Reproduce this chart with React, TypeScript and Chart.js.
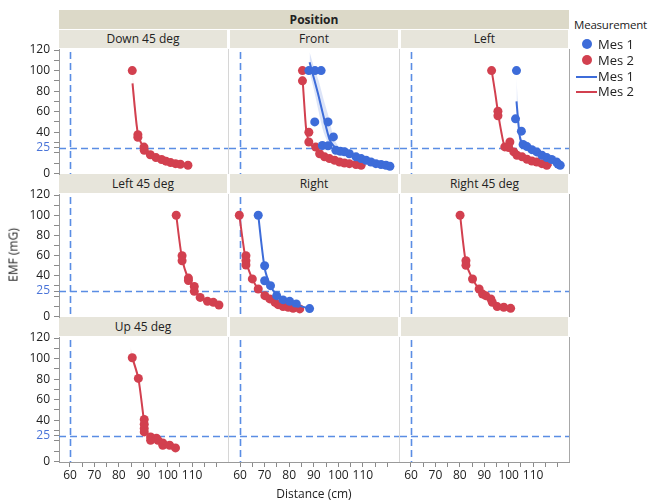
import React, { useEffect, useRef } from "react";
import { Chart, registerables } from "chart.js";
Chart.register(...registerables);

// ---------- data ----------
const groupTitle = "Position";
const positions = ["Down 45 deg", "Front", "Left", "Left 45 deg", "Right", "Right 45 deg", "Up 45 deg", "", ""];
const yTickValues = [0, 10, 20, 25, 30, 40, 50, 60, 70, 80, 90, 100, 110, 120];
const yTickLabels = [0, 25, 40, 60, 80, 100, 120];
const xTickValues = [60, 65, 70, 75, 80, 85, 90, 95, 100, 105, 110, 115, 120];
const xTickLabels = [60, 70, 80, 90, 100, 110];
const refDistance = 60;
const refEMF = 25;
const seriesNames = ["Mes 1", "Mes 2"];

// Down 45 deg
const down45Mes2X = [85.5, 87.8, 87.8, 90.3, 90.4, 92.9, 95.2, 97.5, 99.3, 101.2, 103.2, 105.2, 108.3];
const down45Mes2Y = [100, 37.5, 35, 25.5, 22.4, 18, 15.3, 13.4, 11.8, 10.4, 9.4, 8.8, 7.8];
const down45Fit2X = [85.6, 86.5, 87.7, 89, 90.6, 93, 96, 100, 104, 108.3];
const down45Fit2Y = [87.5, 65, 40, 30, 24, 18.5, 14.5, 11, 9, 7.8];
const down45Band2X = [85.6, 86.5, 87.7, 89, 90.6];
const down45Band2Lo = [77, 55, 36, 28, 23];
const down45Band2Hi = [98, 75, 44, 32, 25];

// Front
const frontMes1X = [88, 90.5, 93, 90.4, 95.8, 98, 93.5, 95.8, 99, 100.8, 102.5, 104.5, 107.2, 109.3, 111.3, 113.3, 115.3, 117.4, 119.4, 121];
const frontMes1Y = [100, 100, 100, 50, 50, 35.4, 27, 26.7, 22.4, 21.5, 21, 19, 16, 14.3, 12.7, 11, 9.4, 8.5, 7.8, 6.8];
const frontFit1X = [88.3, 90, 92, 94, 96.4, 98, 100, 103.4, 108, 113, 121];
const frontFit1Y = [108, 93, 75, 55, 33, 27, 23, 19, 15, 11, 7];
const frontBand1X = [88.3, 90, 92, 94, 96.4, 98, 100];
const frontBand1Lo = [98, 82, 60, 40, 27, 22, 20];
const frontBand1Hi = [118, 104, 90, 72, 52, 35, 26];
const frontMes2X = [85.4, 85.4, 88, 88, 90.8, 92.4, 94.4, 96.4, 98.5, 100.5, 102.5, 104.5, 107.2, 109.3];
const frontMes2Y = [100, 90, 40, 30.5, 25.5, 19, 16, 14.3, 12.7, 11, 10, 9.4, 8.5, 7.8];
const frontFit2X = [85.4, 86.2, 87.1, 88.5, 90.5, 93.5, 96.6, 100, 104, 110];
const frontFit2Y = [94, 65, 39, 29, 24, 19, 16, 12, 10, 7.8];

// Left
const leftMes1X = [103.2, 102.8, 105.2, 105.9, 107.5, 109.5, 111.5, 113.6, 115.6, 117.6, 119.6, 120.2, 121.1];
const leftMes1Y = [100, 53, 41, 28, 26, 23, 20.8, 17.6, 15.3, 13.4, 11, 9, 7.8];
const leftFit1X = [103.2, 104, 104.8, 106.5, 108.2, 112, 116, 121.8];
const leftFit1Y = [70, 48, 33, 27, 24, 19, 14, 9.4];
const leftBand1X = [103.2, 104, 104.8, 106.5];
const leftBand1Lo = [55, 40, 29, 25];
const leftBand1Hi = [92, 60, 38, 29];
const leftMes2X = [93, 95.6, 95.6, 98.4, 100.5, 100, 102.1, 103.4, 105.5, 107.5, 109.5, 111.5, 113.6, 115.6];
const leftMes2Y = [100, 60.5, 56, 25.7, 30.5, 25, 20.8, 17.6, 16, 13.7, 12, 11, 9.4, 7.8];
const leftFit2X = [93.1, 94.5, 95.7, 97, 98.4, 101, 104.1, 110, 117.6];
const leftFit2Y = [99, 78, 58, 40, 26, 21, 16, 12, 7.8];

// Left 45 deg
const left45Mes2X = [103.5, 105.9, 105.9, 108.5, 108.5, 110.9, 110.9, 113.3, 116.3, 118.7, 121];
const left45Mes2Y = [100, 60, 55, 37.8, 35.3, 29.6, 24.7, 18.7, 14.8, 13.8, 11.2];
const left45Fit2X = [103.5, 105.9, 108.5, 110.9, 113.3, 116.3, 121];
const left45Fit2Y = [100, 57, 36.5, 27, 19, 15, 11];

// Right
const rightMes1X = [67.4, 70, 70, 72.4, 74.9, 77.5, 80.2, 82.9, 88.3];
const rightMes1Y = [100, 50, 35.2, 30.3, 20.4, 16.2, 14.8, 12.2, 7.6];
const rightFit1X = [67.4, 70, 72.4, 75, 78, 82, 88.3];
const rightFit1Y = [100, 48, 30, 21, 16, 12, 7.6];
const rightMes2X = [59.7, 62.4, 62.4, 62.4, 65, 67.4, 70.1, 72.1, 74.2, 75.5, 77.5, 79.6, 81.6, 84.3];
const rightMes2Y = [100, 60, 55, 50.7, 37, 27, 20.4, 17.2, 13.8, 11.5, 9.6, 8.9, 7.9, 7.3];
const rightFit2X = [59.7, 62.4, 65, 67.4, 70.1, 74.2, 79.6, 84.3];
const rightFit2Y = [100, 55, 37, 27, 20.5, 14, 9, 7.3];

// Right 45 deg
const right45Mes2X = [80.1, 82.5, 82.5, 85.2, 87.9, 89.3, 90.6, 92.7, 93.3, 95.3, 98, 100.8];
const right45Mes2Y = [100, 55, 50.5, 36.9, 27, 22, 20.4, 17.2, 13.8, 9.6, 8.9, 7.9];
const right45Fit2X = [80.1, 82.5, 85.2, 87.9, 90.6, 93, 95.3, 100.8];
const right45Fit2Y = [100, 53, 37, 27, 21, 16, 11, 8];

// Up 45 deg
const up45Mes2X = [85.5, 88, 90.4, 90.4, 90.4, 90.4, 93, 93, 95.4, 96, 98, 98, 100.8, 103.2];
const up45Mes2Y = [100.8, 80.7, 40.7, 36, 32, 28.6, 23.7, 20.5, 22.4, 20.5, 17.9, 15.6, 15.6, 13];
const up45Fit2X = [85.5, 88, 90.4, 91.5, 93, 96, 100, 103.2];
const up45Fit2Y = [101, 80.7, 38, 27, 23, 20, 16, 13];
const up45Band2X = [84.8, 85.5, 88];
const up45Band2Lo = [100, 97, 78];
const up45Band2Hi = [111, 104, 83];

// ---------- style ----------
const BLUE = "#3d6cd9";
const RED = "#d2404f";
const REF = "#5a8de4";
const FONT = "'Open Sans', 'Noto Sans', sans-serif";
const TEXT = "#222";
const X_MIN = 55.5, X_MAX = 124.7, Y_MIN = -0.7, Y_MAX = 121;

const COLS = [{ left: 59, width: 169 }, { left: 229, width: 170 }, { left: 400, width: 169 }];
const ROWS = [
  { hdr: 30, top: 49, height: 125 },
  { hdr: 174, top: 194, height: 123 },
  { hdr: 317, top: 337, height: 125 },
];

type S = { x: number[]; y: number[] };
type Band = { x: number[]; lo: number[]; hi: number[] };
type Spec = { pts1?: S; pts2?: S; fit1?: S; fit2?: S; band1?: Band; band2?: Band };

const specs: Spec[] = [
  { pts2: { x: down45Mes2X, y: down45Mes2Y }, fit2: { x: down45Fit2X, y: down45Fit2Y }, band2: { x: down45Band2X, lo: down45Band2Lo, hi: down45Band2Hi } },
  { pts1: { x: frontMes1X, y: frontMes1Y }, fit1: { x: frontFit1X, y: frontFit1Y }, band1: { x: frontBand1X, lo: frontBand1Lo, hi: frontBand1Hi }, pts2: { x: frontMes2X, y: frontMes2Y }, fit2: { x: frontFit2X, y: frontFit2Y } },
  { pts1: { x: leftMes1X, y: leftMes1Y }, fit1: { x: leftFit1X, y: leftFit1Y }, band1: { x: leftBand1X, lo: leftBand1Lo, hi: leftBand1Hi }, pts2: { x: leftMes2X, y: leftMes2Y }, fit2: { x: leftFit2X, y: leftFit2Y } },
  { pts2: { x: left45Mes2X, y: left45Mes2Y }, fit2: { x: left45Fit2X, y: left45Fit2Y } },
  { pts1: { x: rightMes1X, y: rightMes1Y }, fit1: { x: rightFit1X, y: rightFit1Y }, pts2: { x: rightMes2X, y: rightMes2Y }, fit2: { x: rightFit2X, y: rightFit2Y } },
  { pts2: { x: right45Mes2X, y: right45Mes2Y }, fit2: { x: right45Fit2X, y: right45Fit2Y } },
  { pts2: { x: up45Mes2X, y: up45Mes2Y }, fit2: { x: up45Fit2X, y: up45Fit2Y }, band2: { x: up45Band2X, lo: up45Band2Lo, hi: up45Band2Hi } },
  {},
  {},
];

const toXY = (s: S) => s.x.map((x, i) => ({ x, y: s.y[i] }));

const refPlugin = {
  id: "refLines",
  beforeDatasetsDraw(chart: any) {
    const { ctx, chartArea: a, scales } = chart;
    ctx.save();
    ctx.beginPath();
    ctx.rect(a.left, a.top, a.right - a.left, a.bottom - a.top);
    ctx.clip();
    ctx.strokeStyle = REF;
    ctx.lineWidth = 1.6;
    ctx.setLineDash([7, 4]);
    const px = Math.round(scales.x.getPixelForValue(refDistance)) + 0.5;
    ctx.beginPath();
    ctx.moveTo(px, a.top + 3);
    ctx.lineTo(px, a.bottom);
    ctx.stroke();
    const py = Math.round(scales.y.getPixelForValue(refEMF)) + 0.5;
    ctx.beginPath();
    ctx.moveTo(a.left, py);
    ctx.lineTo(a.right, py);
    ctx.stroke();
    ctx.restore();
  },
};

const PAD = 12;
const X_AXIS_H = 24;

function Panel({ idx }: { idx: number }) {
  const ref = useRef<HTMLCanvasElement>(null);
  const col = idx % 3, row = Math.floor(idx / 3);
  const showY = col === 0, showX = row === 2;
  const c = COLS[col], r = ROWS[row];
  const left = showY ? 0 : c.left - PAD;
  const top = r.top - PAD;
  const width = c.left + c.width + PAD - left;
  const height = r.height + 2 * PAD + (showX ? X_AXIS_H : 0);

  useEffect(() => {
    const spec = specs[idx];
    const datasets: any[] = [];
    const addBand = (b: Band | undefined, color: string) => {
      if (!b) return;
      datasets.push({ type: "line", data: b.x.map((x, i) => ({ x, y: b.lo[i] })), borderWidth: 0, pointRadius: 0, fill: false, order: 5, tension: 0.3 });
      datasets.push({ type: "line", data: b.x.map((x, i) => ({ x, y: b.hi[i] })), borderWidth: 0, pointRadius: 0, fill: "-1", backgroundColor: color, order: 5, tension: 0.3 });
    };
    addBand(spec.band1, "rgba(61,108,217,0.18)");
    addBand(spec.band2, "rgba(210,64,79,0.15)");
    const addPts = (s: S | undefined, color: string) => {
      if (!s) return;
      datasets.push({ type: "scatter", data: toXY(s), backgroundColor: color, borderColor: color, pointRadius: 4.5, borderWidth: 0, showLine: false, order: 3 });
    };
    addPts(spec.pts1, BLUE);
    addPts(spec.pts2, RED);
    const addFit = (s: S | undefined, color: string) => {
      if (!s) return;
      datasets.push({ type: "line", data: toXY(s), borderColor: color, borderWidth: 2, pointRadius: 0, fill: false, order: 1, tension: 0.25 });
    };
    addFit(spec.fit1, BLUE);
    addFit(spec.fit2, RED);

    const chart = new Chart(ref.current as HTMLCanvasElement, {
      type: "scatter",
      data: { datasets },
      options: {
        animation: false,
        responsive: true,
        maintainAspectRatio: false,
        devicePixelRatio: 1,
        layout: { padding: { left: showY ? 0 : PAD, right: PAD, top: PAD, bottom: PAD }, autoPadding: false } as any,
        plugins: { legend: { display: false }, tooltip: { enabled: false } },
        events: [],
        scales: {
          x: {
            type: "linear",
            min: X_MIN,
            max: X_MAX,
            display: showX,
            afterBuildTicks: (s: any) => { s.ticks = xTickValues.map((v) => ({ value: v })); },
            afterFit: (s: any) => { s.height = showX ? X_AXIS_H : 0; },
            grid: { drawOnChartArea: false, drawTicks: true, tickLength: 5, color: "#8a8a8a" },
            border: { display: true, color: "#9a9a9a" },
            ticks: {
              autoSkip: false, maxRotation: 0, minRotation: 0, padding: 1,
              font: { family: FONT, size: 12 }, color: TEXT,
              callback: (v: any) => (xTickLabels.includes(Number(v)) ? String(v) : ""),
            },
          },
          y: {
            type: "linear",
            min: Y_MIN,
            max: Y_MAX,
            display: showY,
            afterBuildTicks: (s: any) => { s.ticks = yTickValues.map((v) => ({ value: v })); },
            afterFit: (s: any) => { s.width = showY ? COLS[0].left : 0; },
            grid: { drawOnChartArea: false, drawTicks: true, tickLength: 5, color: "#8a8a8a" },
            border: { display: true, color: "#9a9a9a" },
            ticks: {
              autoSkip: false, padding: 4,
              font: { family: FONT, size: 12 },
              color: (ctx: any) => (ctx.tick && ctx.tick.value === refEMF ? "#4a74d8" : TEXT),
              callback: (v: any) => (yTickLabels.includes(Number(v)) ? String(v) : ""),
            },
          },
        },
      } as any,
      plugins: [refPlugin],
    });
    return () => chart.destroy();
  }, [idx]);

  return (
    <div style={{ position: "absolute", left, top, width, height }}>
      <canvas ref={ref} />
    </div>
  );
}

export default function App() {
  const txt: React.CSSProperties = { fontFamily: FONT, fontSize: 12, color: TEXT, position: "absolute", whiteSpace: "nowrap" };
  const plotLeft = COLS[0].left;
  const plotRight = COLS[2].left + COLS[2].width;
  return (
    <div style={{ position: "absolute", left: 0, top: 0, width: 652, height: 500, background: "#fff", overflow: "hidden" }}>
      <div style={{ ...txt, left: plotLeft, top: 10, width: plotRight - plotLeft, height: 19, background: "#dcd9c8", textAlign: "center", lineHeight: "19px", fontWeight: 700 }}>{groupTitle}</div>
      {positions.map((p, i) => {
        const c = COLS[i % 3], r = ROWS[Math.floor(i / 3)];
        return (
          <div key={"h" + i} style={{ ...txt, left: c.left + (i % 3 === 0 ? 0 : 1), top: r.hdr, width: c.width - 1 - (i % 3 === 0 ? 0 : 1), height: r.top - r.hdr - 1, background: "#e7e5db", textAlign: "center", lineHeight: r.top - r.hdr - 1 + "px" }}>{p}</div>
        );
      })}
      {ROWS.map((r, ri) => (
        <React.Fragment key={"d" + ri}>
          <div style={{ position: "absolute", left: COLS[1].left - 1, top: r.top, width: 1, height: r.height, background: "#d6d6d6" }} />
          <div style={{ position: "absolute", left: COLS[2].left - 1, top: r.top, width: 1, height: r.height, background: "#d6d6d6" }} />
          <div style={{ position: "absolute", left: plotRight, top: r.top, width: 1, height: r.height, background: "#a8a8a8" }} />
        </React.Fragment>
      ))}
      {positions.map((_, i) => <Panel key={i} idx={i} />)}
      <div style={{ ...txt, left: 13, top: 255, transform: "translate(-50%, -50%) rotate(-90deg)" }}>EMF (mG)</div>
      <div style={{ ...txt, left: (plotLeft + plotRight) / 2, top: 493, transform: "translate(-50%, -50%)" }}>Distance (cm)</div>
      <div style={{ ...txt, left: 574, top: 17, fontSize: 11.5, letterSpacing: -0.2 }}>Measurement</div>
      {[0, 1].map((k) => (
        <React.Fragment key={"lp" + k}>
          <div style={{ position: "absolute", left: 582, top: 39 + k * 16, width: 10, height: 10, borderRadius: 5, background: k === 0 ? BLUE : RED }} />
          <div style={{ ...txt, left: 598, top: 35 + k * 16, fontSize: 13 }}>{seriesNames[k]}</div>
        </React.Fragment>
      ))}
      {[0, 1].map((k) => (
        <React.Fragment key={"ll" + k}>
          <div style={{ position: "absolute", left: 576, top: 76 + k * 15, width: 21, height: 2, background: k === 0 ? BLUE : RED }} />
          <div style={{ ...txt, left: 598, top: 67 + k * 15, fontSize: 13 }}>{seriesNames[k]}</div>
        </React.Fragment>
      ))}
    </div>
  );
}
